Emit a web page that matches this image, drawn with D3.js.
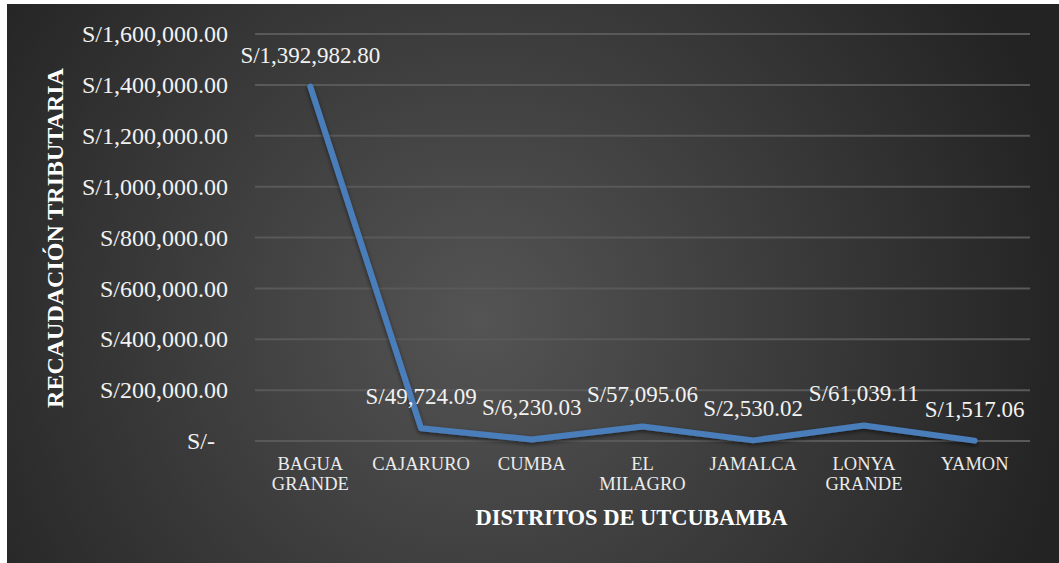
<!DOCTYPE html>
<html>
<head>
<meta charset="utf-8">
<script src="https://cdn.jsdelivr.net/npm/d3@7"></script>
<style>
  html, body { margin: 0; padding: 0; background: #ffffff; }
  svg { display: block; }
  svg text { font-family: "Liberation Serif", "Times New Roman", Tinos, "Noto Serif", "DejaVu Serif", serif; }
</style>
</head>
<body>
<svg id="chart" width="1059" height="563"></svg>
<script>
const categories = [["BAGUA", "GRANDE"], ["CAJARURO"], ["CUMBA"], ["EL", "MILAGRO"], ["JAMALCA"], ["LONYA", "GRANDE"], ["YAMON"]];
const categoryKeys = ["BAGUA GRANDE", "CAJARURO", "CUMBA", "EL MILAGRO", "JAMALCA", "LONYA GRANDE", "YAMON"];
const values = [1392982.80, 49724.09, 6230.03, 57095.06, 2530.02, 61039.11, 1517.06];
const yTicks = [0, 200000, 400000, 600000, 800000, 1000000, 1200000, 1400000, 1600000];
const xTitle = "DISTRITOS DE UTCUBAMBA";
const yTitle = "RECAUDACIÓN TRIBUTARIA";

const svg = d3.select("#chart");
const W = 1059, H = 563;
const margin = { left: 255, right: 29, top: 34, bottom: 122 };

const defs = svg.append("defs");
const grad = defs.append("radialGradient")
  .attr("id", "bg").attr("gradientUnits", "userSpaceOnUse")
  .attr("cx", 480).attr("cy", 320).attr("r", 600);
grad.append("stop").attr("offset", "0%").attr("stop-color", "#545454");
grad.append("stop").attr("offset", "100%").attr("stop-color", "#232323");

const shadow = defs.append("filter").attr("id", "shadow")
  .attr("x", "-10%").attr("y", "-10%").attr("width", "120%").attr("height", "130%");
shadow.append("feDropShadow").attr("dx", 0).attr("dy", 2).attr("stdDeviation", 2)
  .attr("flood-color", "#000").attr("flood-opacity", 0.55);

svg.append("rect").attr("x", 7).attr("y", 4).attr("width", W - 7).attr("height", H - 4)
  .attr("fill", "url(#bg)");

const x = d3.scaleBand().domain(categoryKeys)
  .range([margin.left, W - margin.right]).padding(0);
const y = d3.scaleLinear().domain([0, 1600000])
  .range([H - margin.bottom, margin.top]);

// gridlines
svg.append("g").selectAll("line").data(yTicks).join("line")
  .attr("x1", margin.left).attr("x2", W - margin.right)
  .attr("y1", d => y(d)).attr("y2", d => y(d))
  .attr("stroke", "#595959").attr("stroke-width", 2);

// y axis labels
const fmt = d3.format(",.2f");
const yAxis = d3.axisLeft(y).tickValues(yTicks).tickSize(0).tickPadding(0)
  .tickFormat(d => d === 0 ? "S/-" : "S/" + fmt(d));
const gy = svg.append("g").attr("transform", `translate(228,0)`).call(yAxis);
gy.attr("font-family", null).attr("font-size", null);
gy.select(".domain").remove();
gy.selectAll("text")
  .attr("fill", "#f2f2f2").attr("font-size", "24px")
  .attr("dy", "0.32em")
  .attr("x", d => d === 0 ? -13 : 0);

// x axis (ticks hidden, labels drawn as multi-line text)
const xAxis = d3.axisBottom(x).tickSize(0).tickFormat("");
const gx = svg.append("g").attr("transform", `translate(0,${y(0)})`).call(xAxis);
gx.select(".domain").remove();
categoryKeys.forEach((k, i) => {
  const cx = x(k) + x.bandwidth() / 2;
  const t = svg.append("text")
    .attr("x", cx).attr("y", 470)
    .attr("text-anchor", "middle")
    .attr("fill", "#ececec").attr("font-size", "18.5px");
  categories[i].forEach((ln, j) => {
    t.append("tspan").attr("x", cx).attr("dy", j === 0 ? 0 : 20).text(ln);
  });
});

// line
const line = d3.line()
  .x((d, i) => x(categoryKeys[i]) + x.bandwidth() / 2)
  .y(d => y(d));
svg.append("path").datum(values)
  .attr("d", line)
  .attr("fill", "none").attr("stroke", "#4a7ebb").attr("stroke-width", 6)
  .attr("stroke-linejoin", "round").attr("stroke-linecap", "round")
  .attr("filter", "url(#shadow)");

// data labels
svg.append("g").selectAll("text").data(values).join("text")
  .attr("x", (d, i) => x(categoryKeys[i]) + x.bandwidth() / 2)
  .attr("y", d => y(d) - 24)
  .attr("text-anchor", "middle")
  .attr("fill", "#f2f2f2").attr("font-size", "23px")
  .text(d => "S/" + fmt(d));

// axis titles
svg.append("text")
  .attr("x", (margin.left + W - margin.right) / 2 - 11).attr("y", 525)
  .attr("text-anchor", "middle").attr("fill", "#ffffff")
  .attr("font-weight", "bold").attr("font-size", "22.5px")
  .text(xTitle);

svg.append("text")
  .attr("transform", `translate(63,238) rotate(-90)`)
  .attr("text-anchor", "middle").attr("fill", "#ffffff")
  .attr("font-weight", "bold").attr("font-size", "24px")
  .text(yTitle);
</script>
</body>
</html>
